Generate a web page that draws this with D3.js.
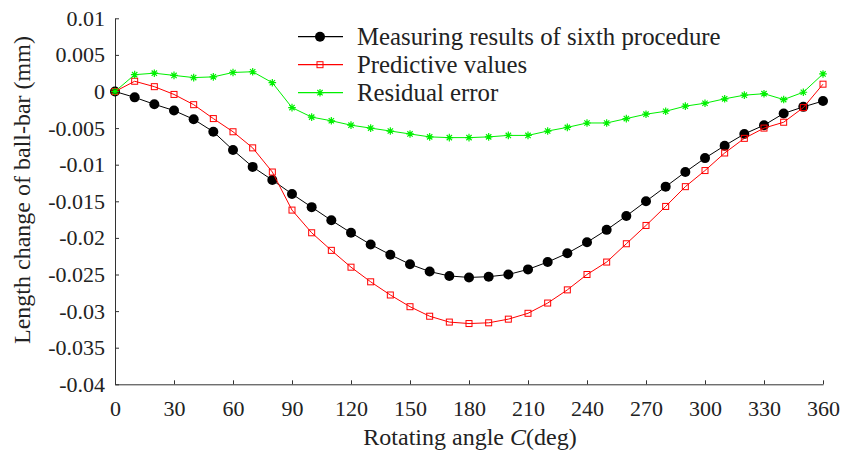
<!DOCTYPE html>
<html>
<head>
<meta charset="utf-8">
<script src="https://cdn.jsdelivr.net/npm/d3@7"></script>
<style>
  body { margin: 0; background: #fff; }
  svg text { font-family: "Liberation Serif", "Times New Roman", serif; fill: #222; }
</style>
</head>
<body>
<script>
const width = 856;
const height = 451;

// rotating angle C (deg)
const angles = [0, 10, 20, 30, 40, 50, 60, 70, 80, 90, 100, 110, 120, 130, 140, 150, 160, 170, 180,
    190, 200, 210, 220, 230, 240, 250, 260, 270, 280, 290, 300, 310, 320, 330, 340, 350, 360];

// length change of ball-bar (mm)
const measured = [0, -0.0008, -0.00175, -0.0026, -0.0038, -0.0055, -0.0080, -0.0103, -0.0121, -0.0140,
    -0.0158, -0.0176, -0.0193, -0.0209, -0.0223, -0.0236, -0.0246, -0.0252, -0.0254, -0.0253,
    -0.0250, -0.0243, -0.0233, -0.0221, -0.0206, -0.0189, -0.0170, -0.0150, -0.0130, -0.0110,
    -0.0091, -0.0074, -0.0058, -0.0046, -0.0030, -0.0021, -0.0013];
const predicted = [0, 0.0014, 0.00066, -0.0004, -0.0018, -0.0037, -0.0055, -0.0077, -0.0110, -0.0162,
    -0.0193, -0.0217, -0.0240, -0.0260, -0.0278, -0.0294, -0.0307, -0.0315, -0.0317, -0.0316,
    -0.0311, -0.0303, -0.0289, -0.0271, -0.0250, -0.0233, -0.0208, -0.0183, -0.0157, -0.0130,
    -0.0108, -0.0084, -0.0064, -0.0050, -0.0042, -0.0022, 0.0010];
const residual = [0, 0.0023, 0.0025, 0.0022, 0.0019, 0.0020, 0.0026, 0.0027, 0.0012, -0.0022,
    -0.0035, -0.0040, -0.0046, -0.0050, -0.0054, -0.0058, -0.0062, -0.0063, -0.0063, -0.0062,
    -0.0060, -0.0060, -0.0054, -0.0049, -0.0043, -0.0043, -0.0037, -0.0031, -0.0027, -0.0020,
    -0.0016, -0.0010, -0.0005, -0.0003, -0.0011, -0.0001, 0.0024];

const xTicks = [0, 30, 60, 90, 120, 150, 180, 210, 240, 270, 300, 330, 360];
const yTicks = [0.01, 0.005, 0, -0.005, -0.01, -0.015, -0.02, -0.025, -0.03, -0.035, -0.04];
const yTickLabels = ["0.01", "0.005", "0", "-0.005", "-0.01", "-0.015", "-0.02", "-0.025", "-0.03", "-0.035", "-0.04"];

const seriesNames = ["Measuring results of sixth procedure", "Predictive values", "Residual error"];

const margin = {top: 18.3, right: 33, bottom: 66.7, left: 115};

const x = d3.scaleLinear()
    .domain([0, 360])
    .range([margin.left, width - margin.right]);

const y = d3.scaleLinear()
    .domain([-0.04, 0.01])
    .range([height - margin.bottom, margin.top]);

const svg = d3.select('body').append('svg')
    .attr('width', width)
    .attr('height', height);

// axes
const xAxis = svg.append('g')
    .attr('transform', `translate(0,${y(-0.04)})`)
    .call(d3.axisBottom(x).tickValues(xTicks).tickSizeInner(-4).tickSizeOuter(0).tickPadding(16));

const yAxis = svg.append('g')
    .attr('transform', `translate(${x(0)},0)`)
    .call(d3.axisLeft(y).tickValues(yTicks).tickFormat((d, i) => yTickLabels[i])
        .tickSizeInner(-4).tickSizeOuter(0).tickPadding(10));

[xAxis, yAxis].forEach(g => {
    g.selectAll('path, line').attr('stroke', '#333').attr('stroke-width', 1);
    g.selectAll('text').attr('font-size', 22).attr('font-family', '"Liberation Serif", serif').attr('fill', '#222');
});

// axis titles
const xTitle = svg.append('text')
    .attr('x', 470)
    .attr('y', 445)
    .attr('text-anchor', 'middle')
    .attr('font-size', 24);
xTitle.append('tspan').text('Rotating angle ');
xTitle.append('tspan').attr('font-style', 'italic').text('C');
xTitle.append('tspan').text('(deg)');

svg.append('text')
    .attr('transform', 'translate(30,190) rotate(-90)')
    .attr('text-anchor', 'middle')
    .attr('font-size', 24)
    .text('Length change of ball-bar (mm)');

// markers
const asterisk = r => `M${-r},0H${r}M0,${-r}V${r}M${-0.7 * r},${-0.7 * r}L${0.7 * r},${0.7 * r}M${-0.7 * r},${0.7 * r}L${0.7 * r},${-0.7 * r}`;

function drawMarker(g, kind, cx, cy) {
    if (kind === 'circle') {
        g.append('circle').attr('cx', cx).attr('cy', cy).attr('r', 5).attr('fill', '#000');
    } else if (kind === 'square') {
        g.append('rect').attr('x', cx - 3).attr('y', cy - 3).attr('width', 6).attr('height', 6)
            .attr('fill', 'none').attr('stroke', '#ff0000').attr('stroke-width', 1);
    } else {
        g.append('path').attr('transform', `translate(${cx},${cy})`).attr('d', asterisk(3.8))
            .attr('fill', 'none').attr('stroke', '#00f000').attr('stroke-width', 1.2);
    }
}

const series = [
    {name: seriesNames[0], values: measured, color: '#000', marker: 'circle'},
    {name: seriesNames[1], values: predicted, color: '#ff0000', marker: 'square'},
    {name: seriesNames[2], values: residual, color: '#00f000', marker: 'asterisk'}
];

const line = d3.line()
    .x(d => x(d[0]))
    .y(d => y(d[1]));

series.forEach(s => {
    const pts = angles.map((a, i) => [a, s.values[i]]);
    const g = svg.append('g');
    g.append('path')
        .datum(pts)
        .attr('fill', 'none')
        .attr('stroke', s.color)
        .attr('stroke-width', 1)
        .attr('d', line);
    pts.forEach(p => drawMarker(g, s.marker, x(p[0]), y(p[1])));
});

// legend
const legend = svg.append('g');
series.forEach((s, i) => {
    const ly = 36.7 + i * 28;
    legend.append('line')
        .attr('x1', 298).attr('x2', 343)
        .attr('y1', ly).attr('y2', ly)
        .attr('stroke', s.color)
        .attr('stroke-width', 1.2);
    drawMarker(legend, s.marker, 320, ly);
    legend.append('text')
        .attr('x', 357)
        .attr('y', ly + 8)
        .attr('font-size', 24.8)
        .text(s.name);
});
</script>
</body>
</html>
